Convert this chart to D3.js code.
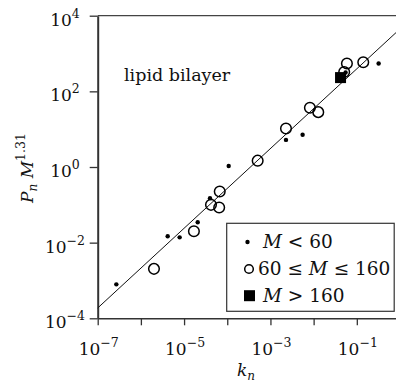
<!DOCTYPE html>
<html>
<head>
<meta charset="utf-8">
<script src="https://cdn.jsdelivr.net/npm/d3@7"></script>
<style>
  body { margin: 0; background: white; }
</style>
</head>
<body>
<svg id="chart"></svg>
<script>
// values
var smallK = [2.70e-7, 4.17e-6, 7.9e-6, 2.07e-5, 3.98e-5, 1.08e-4, 2.29e-3, 5.56e-3, 5.5e-2, 0.32];
var smallP = [7.9e-4, 1.47e-2, 1.38e-2, 3.46e-2, 0.150, 1.06, 5.2, 7.1, 314, 545];

var midK = [2.01e-6, 1.69e-5, 4.2e-5, 6.5e-5, 6.7e-5, 5.06e-4, 2.29e-3, 8.2e-3, 1.28e-2, 5.1e-2, 5.9e-2, 0.141];
var midP = [2.03e-3, 2.0e-2, 0.10, 8.5e-2, 0.225, 1.47, 10.4, 36.9, 28.2, 326, 545, 589];

var bigK = [4.2e-2];
var bigP = [231];

var fitK = [1e-7, 1];
var fitP = [1.87e-4, 4470];

var xTicks = [-7, -6, -5, -4, -3, -2, -1];
var xLabels = [-7, -5, -3, -1];
var yTicks = [4, 2, 0, -2, -4];

var FONT = "'DejaVu Serif', 'Liberation Serif', 'Noto Serif', serif";

var W = 396, H = 387;
var svg = d3.select("#chart").attr("width", W).attr("height", H)
	.attr("font-family", FONT);

var x = d3.scaleLog().domain([1e-7, 1]).range([97.7, 400]);
var y = d3.scaleLog().domain([1e-4, 1e4]).range([318.3, 15.7]);

function powLabel(sel, e, baseSize, supSize, rise) {
	sel.text(null);
	sel.append("tspan").text("10").style("font-size", baseSize + "px");
	sel.append("tspan").attr("dy", -rise).style("font-size", supSize + "px")
		.text(e < 0 ? "\u2212" + (-e) : e);
}

function txt(parent) {
	return parent.append("text").style("font-family", FONT).attr("fill", "#111");
}

// x axis
var gx = svg.append("g").attr("transform", "translate(0," + y(1e-4) + ")")
	.call(d3.axisBottom(x).tickValues(xTicks.map(function(e){ return Math.pow(10, e); }))
		.tickSizeOuter(0).tickSizeInner(7).tickFormat(""));
gx.select(".domain").attr("stroke", "#333").attr("stroke-width", 1.6);
gx.selectAll(".tick line").attr("stroke", "#333").attr("stroke-width", 1.3);

xLabels.forEach(function(e) {
	txt(svg).attr("x", x(Math.pow(10, e)) + 1).attr("y", 355)
		.attr("text-anchor", "middle")
		.call(powLabel, e, 17, 12.5, 8);
});

// y axis
var gy = svg.append("g").attr("transform", "translate(" + x(1e-7) + ",0)")
	.call(d3.axisLeft(y).tickValues(yTicks.map(function(e){ return Math.pow(10, e); }))
		.tickSizeOuter(0).tickSizeInner(8).tickFormat(""));
gy.select(".domain").attr("stroke", "#333").attr("stroke-width", 2);
gy.selectAll(".tick line").attr("stroke", "#333").attr("stroke-width", 1.3);

yTicks.forEach(function(e) {
	txt(svg).attr("x", 65).attr("y", y(Math.pow(10, e)) + 10)
		.attr("text-anchor", "middle")
		.call(powLabel, e, 17, 12.5, 8);
});

// top frame line
svg.append("line")
	.attr("x1", x(1e-7)).attr("x2", W)
	.attr("y1", y(1e4)).attr("y2", y(1e4))
	.attr("stroke", "#444").attr("stroke-width", 1.3);

// axis titles
txt(svg).attr("x", 246).attr("y", 376).attr("text-anchor", "middle")
	.style("font-size", "17px")
	.call(function(t) {
		t.append("tspan").style("font-style", "italic").text("k");
		t.append("tspan").attr("dy", 4).style("font-size", "12px").style("font-style", "italic").text("n");
	});

txt(svg)
	.attr("transform", "translate(33,168) rotate(-90)")
	.attr("text-anchor", "middle")
	.style("font-size", "17px")
	.call(function(t) {
		t.append("tspan").style("font-style", "italic").text("P");
		t.append("tspan").attr("dy", 4).style("font-size", "12px").style("font-style", "italic").text("n");
		t.append("tspan").attr("dy", -4).style("font-style", "italic").text(" M");
		t.append("tspan").attr("dy", -8).style("font-size", "12.5px").text("1.31");
	});

txt(svg).attr("x", 124).attr("y", 81).style("font-size", "17.5px").text("lipid bilayer");

// fitted line
var fit = fitK.map(function(k, i){ return [k, fitP[i]]; });
svg.append("path")
	.datum(fit)
	.attr("d", d3.line().x(function(d){ return x(d[0]); }).y(function(d){ return y(d[1]); }))
	.attr("stroke", "#111").attr("stroke-width", 1).attr("fill", "none");

// data
var big = bigK.map(function(k, i){ return [k, bigP[i]]; });
svg.selectAll(".big").data(big).enter().append("rect")
	.attr("x", function(d){ return x(d[0]) - 5.5; })
	.attr("y", function(d){ return y(d[1]) - 5.5; })
	.attr("width", 11).attr("height", 11).attr("fill", "#000");

var mid = midK.map(function(k, i){ return [k, midP[i]]; });
svg.selectAll(".mid").data(mid).enter().append("circle")
	.attr("cx", function(d){ return x(d[0]); })
	.attr("cy", function(d){ return y(d[1]); })
	.attr("r", 5.3).attr("fill", "none").attr("stroke", "#000").attr("stroke-width", 1.5);

var small = smallK.map(function(k, i){ return [k, smallP[i]]; });
svg.selectAll(".small").data(small).enter().append("circle")
	.attr("cx", function(d){ return x(d[0]); })
	.attr("cy", function(d){ return y(d[1]); })
	.attr("r", 2.2).attr("fill", "#000");

// legend
var lg = svg.append("g");
lg.append("rect").attr("x", 226.7).attr("y", 223.3).attr("width", 167.5).attr("height", 88)
	.attr("fill", "white").attr("stroke", "#333").attr("stroke-width", 1.2);
lg.append("circle").attr("cx", 247.5).attr("cy", 242).attr("r", 2.2).attr("fill", "#000");
lg.append("circle").attr("cx", 249).attr("cy", 269).attr("r", 4.3)
	.attr("fill", "none").attr("stroke", "#000").attr("stroke-width", 1.5);
lg.append("rect").attr("x", 244).attr("y", 290.2).attr("width", 11).attr("height", 11).attr("fill", "#000");

txt(lg).attr("x", 263).attr("y", 248).style("font-size", "18.5px")
	.call(function(t) {
		t.append("tspan").style("font-style", "italic").text("M");
		t.append("tspan").text(" < 60");
	});
txt(lg).attr("x", 258).attr("y", 275).style("font-size", "18.5px")
	.call(function(t) {
		t.append("tspan").text("60 \u2264 ");
		t.append("tspan").style("font-style", "italic").text("M");
		t.append("tspan").text(" \u2264 160");
	});
txt(lg).attr("x", 263).attr("y", 301.7).style("font-size", "18.5px")
	.call(function(t) {
		t.append("tspan").style("font-style", "italic").text("M");
		t.append("tspan").text(" > 160");
	});
</script>
</body>
</html>
